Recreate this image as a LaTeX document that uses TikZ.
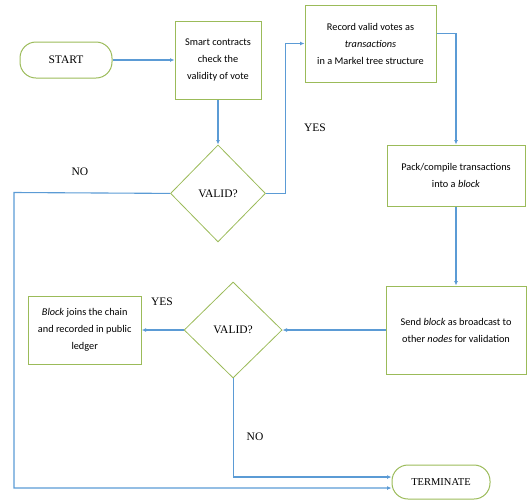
\documentclass[tikz,border=0pt]{standalone}
\usepackage{fontspec}
\setmainfont{Liberation Serif}
\newfontfamily\boxfont{Carlito}
\usepackage{tikz}
\usepackage{xcolor}
\usetikzlibrary{arrows.meta,positioning,shapes.geometric}
\definecolor{boxgreen}{HTML}{9BBB59}
\definecolor{flowblue}{HTML}{5B9BD5}

\begin{document}
\begin{tikzpicture}[
x=1pt, y=1pt,
block/.style={draw=boxgreen, line width=1pt, align=center, inner sep=2pt, font=\boxfont\fontsize{10.3}{17}\selectfont},
terminal/.style={draw=boxgreen, line width=1pt, rounded corners=16pt, align=center, font=\fontsize{11.5}{13}\selectfont},
decision/.style={diamond, draw=boxgreen, line width=0.8pt, minimum width=95pt, minimum height=97pt, inner sep=0pt, font=\fontsize{11.5}{13}\selectfont},
answer/.style={font=\fontsize{11.5}{13}\selectfont},
arrow/.style={-{Latex[length=4.5pt, width=4pt]}, draw=flowblue, line width=1.1pt}
]
\useasboundingbox (0,0) rectangle (530,-499);
\node[terminal, minimum width=92pt, minimum height=36pt] (start) at (66,-60) {START};
\node[block, minimum width=86pt, minimum height=78pt, right=62pt of start] (check) {Smart contracts\\check the\\validity of vote};
\node[decision, below=45pt of check] (valid1) {VALID?};
\node[block, minimum width=131pt, minimum height=77pt] (record) at (370.5,-43.5) {Record valid votes as\\\textit{transactions}\\in a Markel tree structure};
\node[block, minimum width=138pt, minimum height=61pt] (pack) at (456,-175.5) {Pack/compile transactions\\into a \textit{block}};
\node[block, minimum width=140pt, minimum height=88pt, below=79pt of pack] (send) {Send \textit{block} as broadcast to\\other \textit{nodes} for validation};
\node[decision, minimum width=98pt, minimum height=96pt, left=103pt of send] (valid2) {VALID?};
\node[block, minimum width=113pt, minimum height=68pt, left=42pt of valid2] (ledger) {\textit{Block} joins the chain\\and recorded in public\\ledger};
\node[terminal, minimum width=98pt, minimum height=34pt, font=\fontsize{10.5}{12}\selectfont] (terminate) at (441,-482) {TERMINATE};

% answers on the branches
\node[answer] (no1) at (80,-172) {NO};
\node[answer] (yes1) at (315,-128) {YES};
\node[answer] (yes2) at (162,-302) {YES};
\node[answer] (no2) at (255,-437) {NO};

\coordinate (yesturn) at ([xshift=20pt]valid1.east);
\coordinate (norail) at (14,-192.5);

\draw[arrow] (start) -- (check);
\draw[arrow] (check) -- (valid1);
\draw[arrow] (valid1.east) -- (yesturn) |- (record.west);
\draw[arrow] ([yshift=10pt]record.east) -| (pack.north);
\draw[arrow] (pack) -- (send);
\draw[arrow] (send) -- (valid2);
\draw[arrow] (valid2) -- (ledger);
\draw[arrow] (valid2.south) |- ([yshift=5pt]terminate.west);
\draw[arrow] (valid1.west) -- (norail) |- ([yshift=-6pt]terminate.west);
\end{tikzpicture}
\end{document}
